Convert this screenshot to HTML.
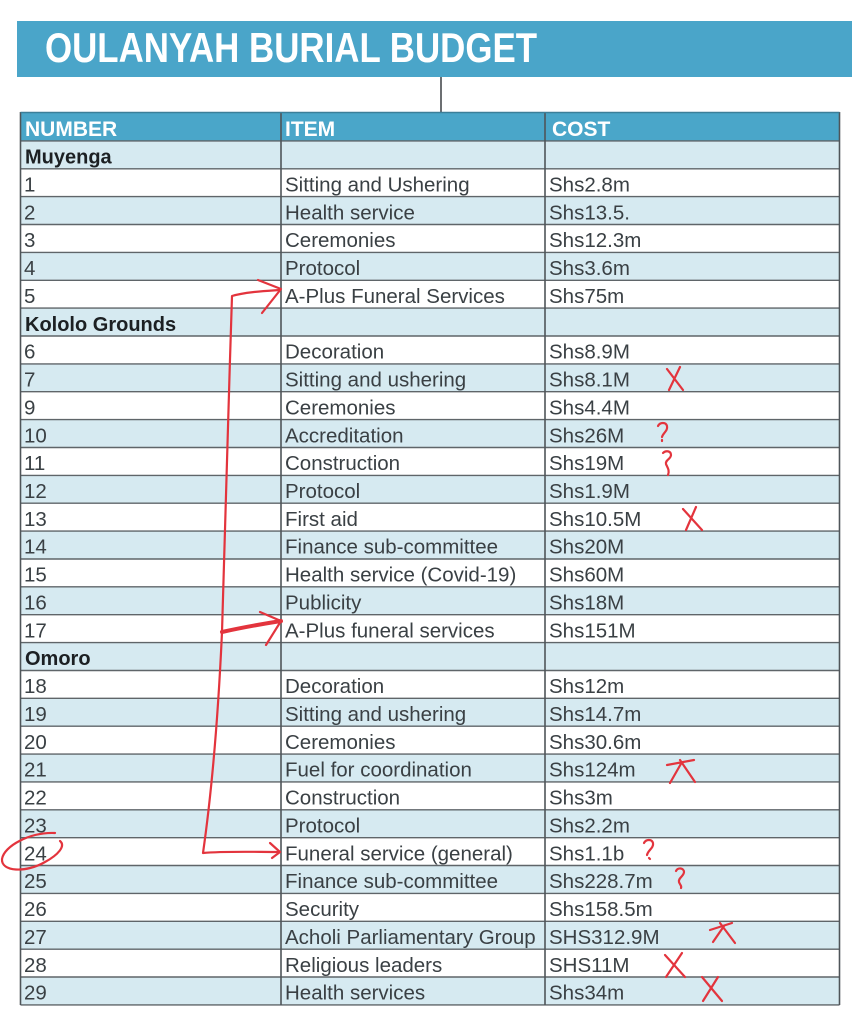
<!DOCTYPE html>
<html><head><meta charset="utf-8"><style>
html,body{margin:0;padding:0;background:#fff;}
svg{display:block;}
.t{font-family:"Liberation Sans",sans-serif;font-size:20.5px;fill:#3a4044;}
.b{font-family:"Liberation Sans",sans-serif;font-size:20px;font-weight:bold;fill:#1c2023;}
.h{font-family:"Liberation Sans",sans-serif;font-size:21px;font-weight:bold;fill:#fff;}
.r{fill:none;stroke:#e3343d;stroke-width:2.2;stroke-linecap:round;stroke-linejoin:round;}
</style></head><body>
<svg width="860" height="1024" viewBox="0 0 860 1024" xmlns="http://www.w3.org/2000/svg">
<rect x="0" y="0" width="860" height="1024" fill="#fff"/>
<rect x="17" y="21" width="835" height="56" fill="#4aa5c9"/>
<text x="45" y="62" font-family="Liberation Sans, sans-serif" font-size="42" font-weight="bold" fill="#fff" textLength="492" lengthAdjust="spacingAndGlyphs">OULANYAH BURIAL BUDGET</text>
<line x1="441" y1="77" x2="441" y2="112" stroke="#3a3f42" stroke-width="1.5"/>
<rect x="20.5" y="112" width="819" height="29" fill="#4aa6c9"/>
<text class="h" x="25" y="136">NUMBER</text>
<text class="h" x="285" y="136">ITEM</text>
<text class="h" x="552" y="136">COST</text>
<g>
<rect x="20.5" y="140.9" width="819" height="27.87" fill="#d6eaf1"/>
<rect x="20.5" y="196.6" width="819" height="27.87" fill="#d6eaf1"/>
<rect x="20.5" y="252.4" width="819" height="27.87" fill="#d6eaf1"/>
<rect x="20.5" y="308.1" width="819" height="27.87" fill="#d6eaf1"/>
<rect x="20.5" y="363.9" width="819" height="27.87" fill="#d6eaf1"/>
<rect x="20.5" y="419.6" width="819" height="27.87" fill="#d6eaf1"/>
<rect x="20.5" y="475.4" width="819" height="27.87" fill="#d6eaf1"/>
<rect x="20.5" y="531.1" width="819" height="27.87" fill="#d6eaf1"/>
<rect x="20.5" y="586.8" width="819" height="27.87" fill="#d6eaf1"/>
<rect x="20.5" y="642.6" width="819" height="27.87" fill="#d6eaf1"/>
<rect x="20.5" y="698.3" width="819" height="27.87" fill="#d6eaf1"/>
<rect x="20.5" y="754.1" width="819" height="27.87" fill="#d6eaf1"/>
<rect x="20.5" y="809.8" width="819" height="27.87" fill="#d6eaf1"/>
<rect x="20.5" y="865.5" width="819" height="27.87" fill="#d6eaf1"/>
<rect x="20.5" y="921.3" width="819" height="27.87" fill="#d6eaf1"/>
<rect x="20.5" y="977.0" width="819" height="27.87" fill="#d6eaf1"/>
</g>
<g stroke="#5f6569" stroke-width="1.4">
<line x1="20.5" x2="839.5" y1="140.9" y2="140.9"/>
<line x1="20.5" x2="839.5" y1="168.8" y2="168.8"/>
<line x1="20.5" x2="839.5" y1="196.6" y2="196.6"/>
<line x1="20.5" x2="839.5" y1="224.5" y2="224.5"/>
<line x1="20.5" x2="839.5" y1="252.4" y2="252.4"/>
<line x1="20.5" x2="839.5" y1="280.3" y2="280.3"/>
<line x1="20.5" x2="839.5" y1="308.1" y2="308.1"/>
<line x1="20.5" x2="839.5" y1="336.0" y2="336.0"/>
<line x1="20.5" x2="839.5" y1="363.9" y2="363.9"/>
<line x1="20.5" x2="839.5" y1="391.7" y2="391.7"/>
<line x1="20.5" x2="839.5" y1="419.6" y2="419.6"/>
<line x1="20.5" x2="839.5" y1="447.5" y2="447.5"/>
<line x1="20.5" x2="839.5" y1="475.4" y2="475.4"/>
<line x1="20.5" x2="839.5" y1="503.2" y2="503.2"/>
<line x1="20.5" x2="839.5" y1="531.1" y2="531.1"/>
<line x1="20.5" x2="839.5" y1="559.0" y2="559.0"/>
<line x1="20.5" x2="839.5" y1="586.8" y2="586.8"/>
<line x1="20.5" x2="839.5" y1="614.7" y2="614.7"/>
<line x1="20.5" x2="839.5" y1="642.6" y2="642.6"/>
<line x1="20.5" x2="839.5" y1="670.5" y2="670.5"/>
<line x1="20.5" x2="839.5" y1="698.3" y2="698.3"/>
<line x1="20.5" x2="839.5" y1="726.2" y2="726.2"/>
<line x1="20.5" x2="839.5" y1="754.1" y2="754.1"/>
<line x1="20.5" x2="839.5" y1="781.9" y2="781.9"/>
<line x1="20.5" x2="839.5" y1="809.8" y2="809.8"/>
<line x1="20.5" x2="839.5" y1="837.7" y2="837.7"/>
<line x1="20.5" x2="839.5" y1="865.5" y2="865.5"/>
<line x1="20.5" x2="839.5" y1="893.4" y2="893.4"/>
<line x1="20.5" x2="839.5" y1="921.3" y2="921.3"/>
<line x1="20.5" x2="839.5" y1="949.2" y2="949.2"/>
<line x1="20.5" x2="839.5" y1="977.0" y2="977.0"/>
<line x1="20.5" x2="839.5" y1="1004.9" y2="1004.9"/>
</g>
<g stroke="#4f5559" stroke-width="1.6">
<line x1="20.5" x2="20.5" y1="112" y2="1005"/>
<line x1="281" x2="281" y1="112" y2="1005"/>
<line x1="545" x2="545" y1="112" y2="1005"/>
<line x1="839.5" x2="839.5" y1="112" y2="1005"/>
<line x1="20.5" x2="839.5" y1="112.5" y2="112.5" stroke="#3b7f99"/>
</g>
<g>
<text class="b" x="25" y="163.5">Muyenga</text>
<text class="t" x="24" y="191.4">1</text><text class="t" x="285" y="191.4">Sitting and Ushering</text><text class="t" x="549" y="191.4">Shs2.8m</text>
<text class="t" x="24" y="219.3">2</text><text class="t" x="285" y="219.3">Health service</text><text class="t" x="549" y="219.3">Shs13.5.</text>
<text class="t" x="24" y="247.2">3</text><text class="t" x="285" y="247.2">Ceremonies</text><text class="t" x="549" y="247.2">Shs12.3m</text>
<text class="t" x="24" y="275.0">4</text><text class="t" x="285" y="275.0">Protocol</text><text class="t" x="549" y="275.0">Shs3.6m</text>
<text class="t" x="24" y="302.9">5</text><text class="t" x="285" y="302.9">A-Plus Funeral Services</text><text class="t" x="549" y="302.9">Shs75m</text>
<text class="b" x="25" y="330.8">Kololo Grounds</text>
<text class="t" x="24" y="358.6">6</text><text class="t" x="285" y="358.6">Decoration</text><text class="t" x="549" y="358.6">Shs8.9M</text>
<text class="t" x="24" y="386.5">7</text><text class="t" x="285" y="386.5">Sitting and ushering</text><text class="t" x="549" y="386.5">Shs8.1M</text>
<text class="t" x="24" y="414.4">9</text><text class="t" x="285" y="414.4">Ceremonies</text><text class="t" x="549" y="414.4">Shs4.4M</text>
<text class="t" x="24" y="442.3">10</text><text class="t" x="285" y="442.3">Accreditation</text><text class="t" x="549" y="442.3">Shs26M</text>
<text class="t" x="24" y="470.1">11</text><text class="t" x="285" y="470.1">Construction</text><text class="t" x="549" y="470.1">Shs19M</text>
<text class="t" x="24" y="498.0">12</text><text class="t" x="285" y="498.0">Protocol</text><text class="t" x="549" y="498.0">Shs1.9M</text>
<text class="t" x="24" y="525.9">13</text><text class="t" x="285" y="525.9">First aid</text><text class="t" x="549" y="525.9">Shs10.5M</text>
<text class="t" x="24" y="553.7">14</text><text class="t" x="285" y="553.7">Finance sub-committee</text><text class="t" x="549" y="553.7">Shs20M</text>
<text class="t" x="24" y="581.6">15</text><text class="t" x="285" y="581.6">Health service (Covid-19)</text><text class="t" x="549" y="581.6">Shs60M</text>
<text class="t" x="24" y="609.5">16</text><text class="t" x="285" y="609.5">Publicity</text><text class="t" x="549" y="609.5">Shs18M</text>
<text class="t" x="24" y="637.4">17</text><text class="t" x="285" y="637.4">A-Plus funeral services</text><text class="t" x="549" y="637.4">Shs151M</text>
<text class="b" x="25" y="665.2">Omoro</text>
<text class="t" x="24" y="693.1">18</text><text class="t" x="285" y="693.1">Decoration</text><text class="t" x="549" y="693.1">Shs12m</text>
<text class="t" x="24" y="721.0">19</text><text class="t" x="285" y="721.0">Sitting and ushering</text><text class="t" x="549" y="721.0">Shs14.7m</text>
<text class="t" x="24" y="748.8">20</text><text class="t" x="285" y="748.8">Ceremonies</text><text class="t" x="549" y="748.8">Shs30.6m</text>
<text class="t" x="24" y="776.7">21</text><text class="t" x="285" y="776.7">Fuel for coordination</text><text class="t" x="549" y="776.7">Shs124m</text>
<text class="t" x="24" y="804.6">22</text><text class="t" x="285" y="804.6">Construction</text><text class="t" x="549" y="804.6">Shs3m</text>
<text class="t" x="24" y="832.5">23</text><text class="t" x="285" y="832.5">Protocol</text><text class="t" x="549" y="832.5">Shs2.2m</text>
<text class="t" x="24" y="860.3">24</text><text class="t" x="285" y="860.3">Funeral service (general)</text><text class="t" x="549" y="860.3">Shs1.1b</text>
<text class="t" x="24" y="888.2">25</text><text class="t" x="285" y="888.2">Finance sub-committee</text><text class="t" x="549" y="888.2">Shs228.7m</text>
<text class="t" x="24" y="916.1">26</text><text class="t" x="285" y="916.1">Security</text><text class="t" x="549" y="916.1">Shs158.5m</text>
<text class="t" x="24" y="943.9">27</text><text class="t" x="285" y="943.9">Acholi Parliamentary Group</text><text class="t" x="549" y="943.9">SHS312.9M</text>
<text class="t" x="24" y="971.8">28</text><text class="t" x="285" y="971.8">Religious leaders</text><text class="t" x="549" y="971.8">SHS11M</text>
<text class="t" x="24" y="999.7">29</text><text class="t" x="285" y="999.7">Health services</text><text class="t" x="549" y="999.7">Shs34m</text>
</g>
<g>
<path class="r" d="M280 290 C265 291 245 292 232 296 C228 420 224 560 222 632 C218 720 212 790 203 853 C225 851 255 852 280 852"/>
<path class="r" d="M258 280 L281 289 L262 313"/>
<path class="r" style="stroke-width:4" d="M222 632 C240 628 262 624 281 621"/>
<path class="r" d="M260 612 L281 621 L266 645"/>
<path class="r" d="M270 843 L280 852 L272 858"/>
<path class="r" d="M55 833 C30 832 4 846 2 859 C1 872 26 873 45 862 C58 855 66 846 60 841"/>
<path class="r" d="M667 369 L683 390 M680 367 L669 390"/>
<path class="r" d="M683 509 L702 530 M696 507 L686 530"/>
<path class="r" d="M667 765 L694 760 M680 760 L695 782 M682 762 L670 783"/>
<path class="r" d="M710 930 L732 923 M720 923 L735 943 M724 926 L713 942"/>
<path class="r" d="M665 955 L685 977 M682 953 L666 977"/>
<path class="r" d="M702 977 L722 1001 M718 977 L703 1001"/>
<path class="r" d="M658 426 C660 422 666 422 667 426 C668 431 663 433 662 437 M662 440 L662 441"/>
<path class="r" d="M663 453 C666 450 671 451 671 455 C671 459 665 460 666 464 C667 467 670 470 668 475"/>
<path class="r" d="M644 843 C646 839 652 839 653 843 C654 848 648 850 647 855 M649 858 L650 859"/>
<path class="r" d="M676 871 C678 867 684 868 684 872 C684 876 678 878 679 882 C680 885 682 886 681 888"/>
</g>
</svg>
</body></html>
